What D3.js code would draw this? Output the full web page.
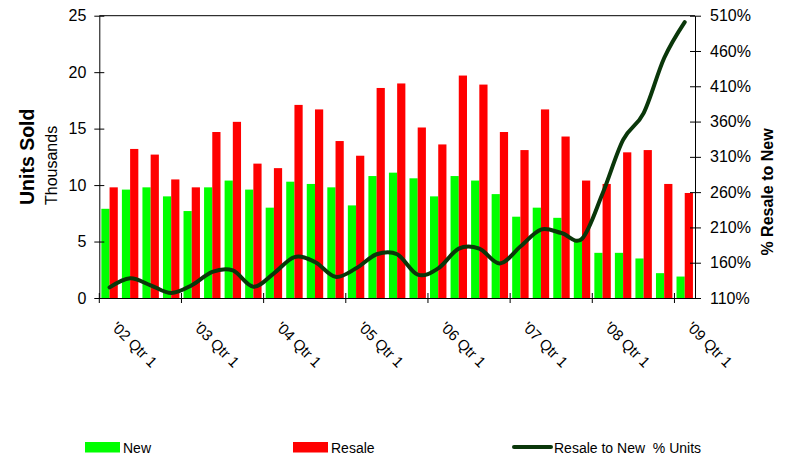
<!DOCTYPE html>
<html>
<head>
<meta charset="utf-8">
<script src="https://cdn.jsdelivr.net/npm/d3@7"></script>
<style>
  html, body { margin: 0; padding: 0; background: #fff; }
  svg { display: block; font-family: "Liberation Sans", Arial, sans-serif; }
</style>
</head>
<body>
<svg id="chart" width="791" height="457"></svg>
<script>
// ---- data ----
const quarters = [
  "'02 Qtr 1","'02 Qtr 2","'02 Qtr 3","'02 Qtr 4",
  "'03 Qtr 1","'03 Qtr 2","'03 Qtr 3","'03 Qtr 4",
  "'04 Qtr 1","'04 Qtr 2","'04 Qtr 3","'04 Qtr 4",
  "'05 Qtr 1","'05 Qtr 2","'05 Qtr 3","'05 Qtr 4",
  "'06 Qtr 1","'06 Qtr 2","'06 Qtr 3","'06 Qtr 4",
  "'07 Qtr 1","'07 Qtr 2","'07 Qtr 3","'07 Qtr 4",
  "'08 Qtr 1","'08 Qtr 2","'08 Qtr 3","'08 Qtr 4",
  "'09 Qtr 1"
];
const newUnits = [7.9, 9.6, 9.8, 9.0, 7.7, 9.8, 10.4, 9.6, 8.0, 10.3, 10.1, 9.8, 8.2, 10.8, 11.1,
                  10.6, 9.0, 10.8, 10.4, 9.2, 7.2, 8.0, 7.1, 5.2, 4.0, 4.0, 3.5, 2.2, 1.9];
const resaleUnits = [9.8, 13.2, 12.7, 10.5, 9.8, 14.7, 15.6, 11.9, 11.5, 17.1, 16.7, 13.9, 12.6, 18.6, 19.0,
                     15.1, 13.6, 19.7, 18.9, 14.7, 13.1, 16.7, 14.3, 10.4, 10.1, 12.9, 13.1, 10.1, 9.3];
const resaleToNewPct = [125, 138, 128, 117, 128, 147, 149, 126, 145, 168, 161, 140, 152, 172, 172,
                        143, 152, 180, 180, 159, 183, 207, 202, 194, 258, 334, 372, 450, 501];
const leftTicks = [0, 5, 10, 15, 20, 25];
const rightTicks = [110, 160, 210, 260, 310, 360, 410, 460, 510];
const seriesNames = ["New", "Resale"];
const colors = { New: "#00ff00", Resale: "#ff0000", line: "#0a370a" };

// ---- layout ----
const L = 99.3, R = 695, T = 15.7, B = 298;
const svg = d3.select("#chart");

const x = d3.scaleBand().domain(quarters).range([L, R]).padding(0);
const xs = d3.scaleBand().domain(seriesNames).range([0, x.bandwidth()]).paddingInner(0).paddingOuter(0.25);
const yL = d3.scaleLinear().domain([0, 25]).range([B, T]);
const yR = d3.scaleLinear().domain([110, 510]).range([B, T]);

// bars
const rows = quarters.map((q, i) => ({ q, New: newUnits[i], Resale: resaleUnits[i], pct: resaleToNewPct[i] }));
const g = svg.append("g");
seriesNames.forEach(s => {
  g.selectAll("rect." + s).data(rows).enter().append("rect")
    .attr("class", s)
    .attr("x", d => x(d.q) + xs(s))
    .attr("width", xs.bandwidth())
    .attr("y", d => yL(d[s]))
    .attr("height", d => B - yL(d[s]))
    .attr("fill", colors[s]);
});

// frame
svg.append("line").attr("x1", L).attr("x2", R).attr("y1", T).attr("y2", T).attr("stroke", "#000").attr("stroke-width", 1);

// left axis
const axL = svg.append("g").attr("transform", `translate(${L},0)`)
  .call(d3.axisLeft(yL).tickValues(leftTicks).tickSizeInner(5).tickSizeOuter(0).tickPadding(8));
axL.selectAll(".tick line").attr("x2", 5).attr("x1", -5);
axL.selectAll("text").attr("font-size", 16).attr("font-family", "Liberation Sans, Arial, sans-serif").attr("fill", "#000");
axL.select(".domain").attr("stroke", "#000");

// right axis
const axR = svg.append("g").attr("transform", `translate(${R},0)`)
  .call(d3.axisRight(yR).tickValues(rightTicks).tickFormat(d => d + "%").tickSizeOuter(0).tickPadding(9));
axR.selectAll(".tick line").attr("x1", -5).attr("x2", 6);
axR.selectAll("text").attr("font-size", 16).attr("font-family", "Liberation Sans, Arial, sans-serif").attr("fill", "#000");
axR.select(".domain").attr("stroke", "#000");

// bottom axis
const q1 = quarters.filter((q, i) => i % 4 === 0);
const axB = svg.append("g").attr("transform", `translate(0,${B})`)
  .call(d3.axisBottom(x).tickValues(q1).tickSizeOuter(0).tickFormat(""));
axB.selectAll(".tick").attr("transform", d => `translate(${x(d)},0)`);
axB.selectAll(".tick line").attr("y1", -5).attr("y2", 5).attr("stroke", "#000");
axB.select(".domain").attr("stroke", "#000");
svg.append("g").selectAll("text").data(q1).enter().append("text")
  .attr("transform", d => `translate(${x(d) + x.bandwidth() / 2 + 1},${B + 30}) rotate(45)`)
  .attr("font-size", 15).attr("fill", "#000")
  .text(d => d);

// ratio line
const line = d3.line()
  .x(d => x(d.q) + x.bandwidth() / 2)
  .y(d => yR(d.pct))
  .curve(d3.curveCatmullRom.alpha(0));
svg.append("path").datum(rows).attr("d", line)
  .attr("fill", "none").attr("stroke", colors.line).attr("stroke-width", 4)
  .attr("stroke-linejoin", "round").attr("stroke-linecap", "round");

// axis titles
svg.append("text").attr("transform", "translate(34,205) rotate(-90)")
  .attr("font-size", 19.5).attr("font-weight", "bold").attr("fill", "#000").text("Units Sold");
svg.append("text").attr("transform", "translate(57,205) rotate(-90)")
  .attr("font-size", 16).attr("fill", "#000").text("Thousands");
svg.append("text").attr("transform", "translate(773,192) rotate(-90)")
  .attr("text-anchor", "middle").attr("font-size", 16).attr("font-weight", "bold").attr("fill", "#000")
  .text("% Resale to New");

// legend
const lg = svg.append("g").attr("font-size", 14).attr("fill", "#000");
lg.append("rect").attr("x", 85).attr("y", 442).attr("width", 35).attr("height", 10.5).attr("fill", colors.New);
lg.append("text").attr("x", 123).attr("y", 452.5).text("New");
lg.append("rect").attr("x", 293).attr("y", 442).attr("width", 35).attr("height", 10.5).attr("fill", colors.Resale);
lg.append("text").attr("x", 331).attr("y", 452.5).text("Resale");
lg.append("line").attr("x1", 514).attr("x2", 551).attr("y1", 447).attr("y2", 447)
  .attr("stroke", colors.line).attr("stroke-width", 4).attr("stroke-linecap", "round");
lg.append("text").attr("x", 554).attr("y", 452.5).style("white-space", "pre").text("Resale to New  % Units");
</script>
</body>
</html>
